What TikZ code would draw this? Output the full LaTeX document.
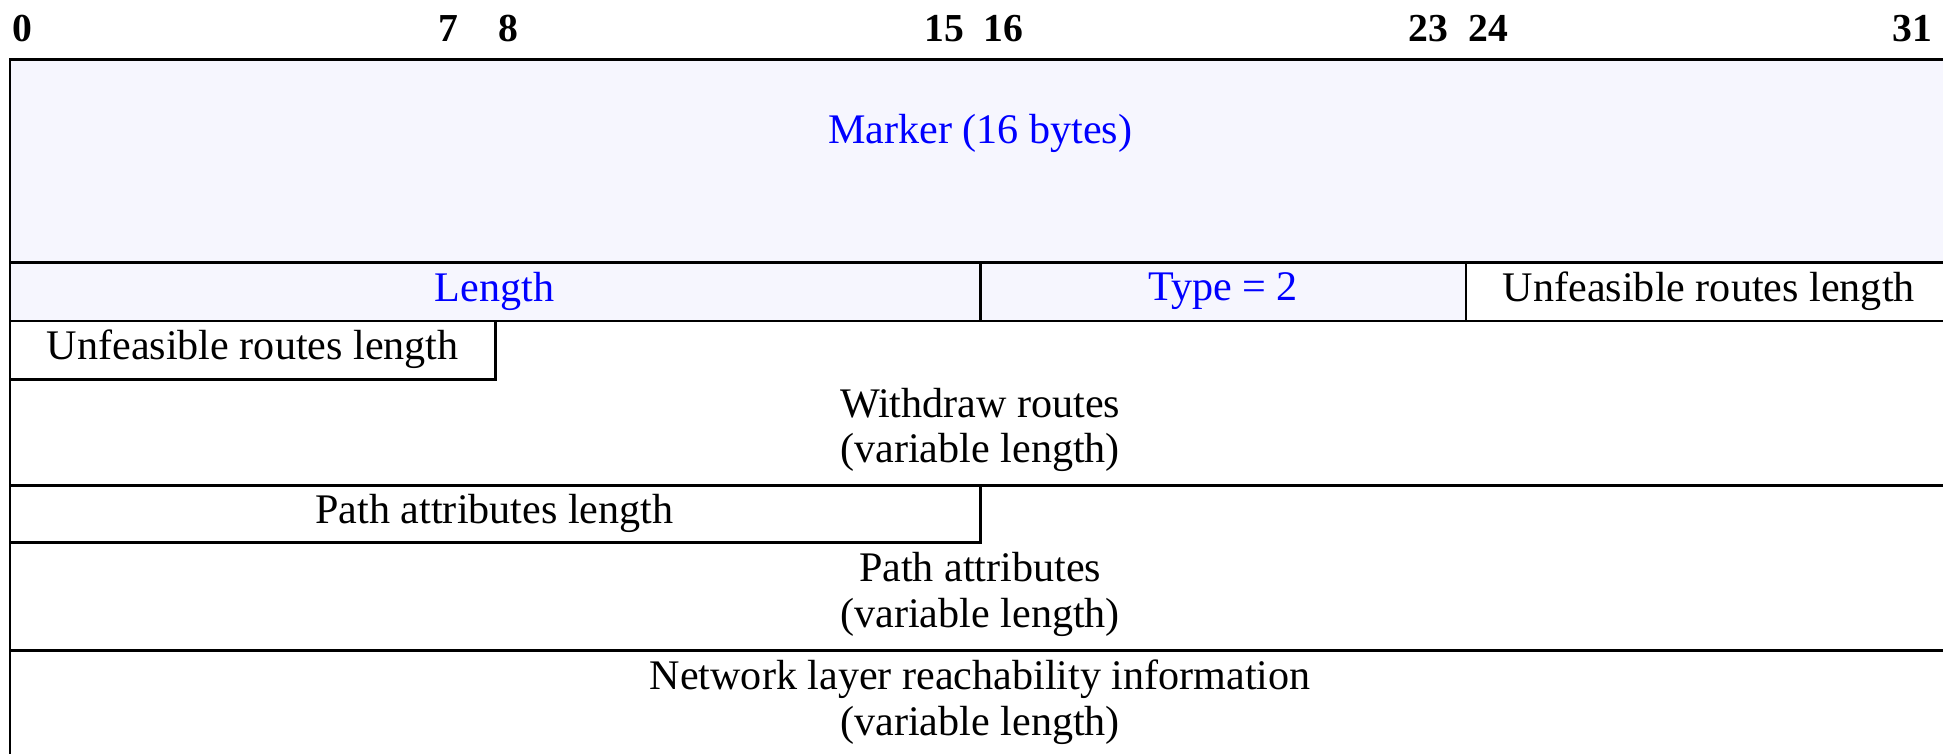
\documentclass[tikz,border=0pt]{standalone}
\usepackage{fontspec}
\setmainfont{Liberation Serif}
\definecolor{hdrfill}{RGB}{246,246,254}
\definecolor{hdrtext}{RGB}{0,0,255}
\begin{document}
\begin{tikzpicture}[x=0.5pt,y=-0.5pt,
  box/.style={draw=black,line width=1.1pt},
  txt/.style={font=\fontsize{17}{18.5}\selectfont,inner sep=0pt,align=center},
  htxt/.style={txt,text=hdrtext},
  bitlbl/.style={font=\fontsize{16}{18}\selectfont\bfseries,inner sep=0pt}]
\useasboundingbox (0,0) rectangle (1568,608);
\clip (0,0) rectangle (1568,608);
% header fill
\fill[hdrfill] (8,48) rectangle (1575,259);
\fill[white] (1183,212) rectangle (1575,259);
% boxes
\draw[box] (8,48) rectangle (1575,212);
\draw[box] (8,212) rectangle (791,259);
\draw[box] (791,212) rectangle (1183,259);
\draw[box] (1183,212) rectangle (1575,259);
\draw[box] (8,259) rectangle (400,306);
\draw[box] (8,259) -- (8,620);
\draw[box] (8,392) -- (1580,392);
\draw[box] (8,392) rectangle (791,438);
\draw[box] (8,525) -- (1580,525);
% bit labels
\node[bitlbl] (b0) at (18,23) {0};
\node[bitlbl] (b7) at (362,23) {7};
\node[bitlbl] (b8) at (410,23) {8};
\node[bitlbl] (b15) at (762,23) {15};
\node[bitlbl] (b16) at (810,23) {16};
\node[bitlbl] (b23) at (1153,23) {23};
\node[bitlbl] (b24) at (1201,23) {24};
\node[bitlbl] (b31) at (1543,23) {31};
% field texts
\node[htxt] (marker) at (791,108) {Marker (16 bytes)};
\node[htxt] (length) at (399,235) {Length};
\node[htxt] (type) at (987,235) {Type = 2};
\node[txt] (unf1) at (1379,235) {Unfeasible routes length};
\node[txt] (unf2) at (204,282) {Unfeasible routes length};
\node[txt] (withdraw) at (791,347) {Withdraw routes\\(variable length)};
\node[txt] (palen) at (399,414) {Path attributes length};
\node[txt] (pattr) at (791,480) {Path attributes\\(variable length)};
\node[txt] (nlri) at (791,567) {Network layer reachability information\\(variable length)};
\end{tikzpicture}
\end{document}
